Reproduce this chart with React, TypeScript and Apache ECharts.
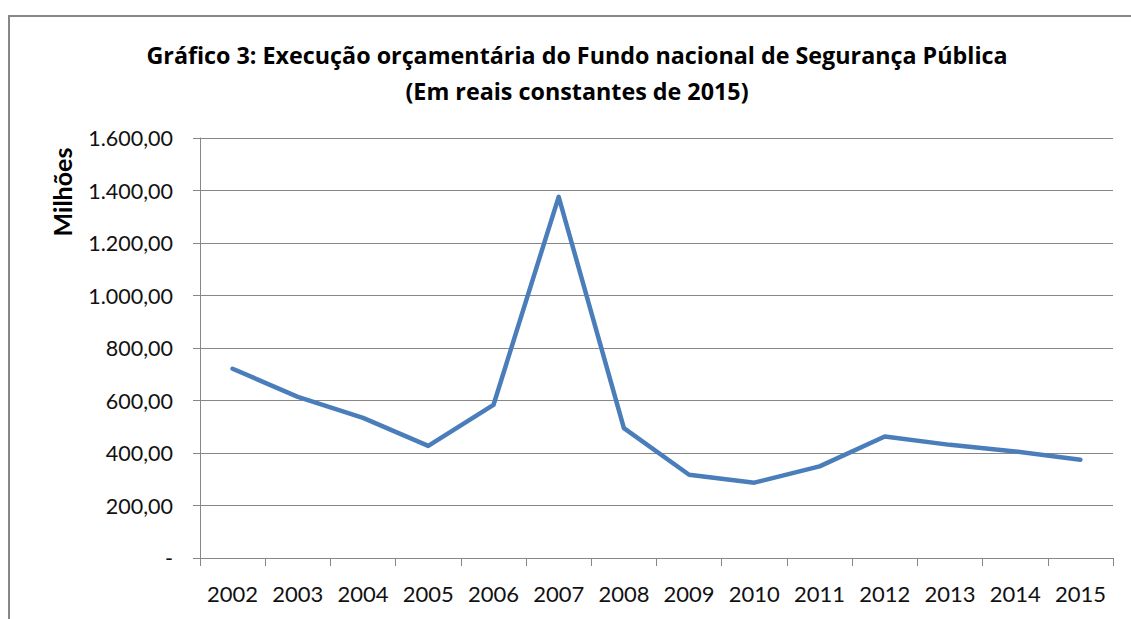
import React, { useEffect, useRef } from "react";
import * as echarts from "echarts";

const years = ["2002", "2003", "2004", "2005", "2006", "2007", "2008", "2009", "2010", "2011", "2012", "2013", "2014", "2015"];
const values = [721, 614, 534, 427, 583, 1376, 495, 317, 287, 349, 463, 431, 406, 374];
const yTicks = { min: 0, max: 1600, interval: 200 };
const titleLine1 = "Gráfico 3: Execução orçamentária do Fundo nacional de Segurança Pública";
const titleLine2 = "(Em reais constantes de 2015)";
const yAxisTitle = "Milhões";

function fmt(v: number): string {
  if (v === 0) return "-";
  const s = v.toFixed(2).replace(".", ",");
  const [intPart, dec] = s.split(",");
  const withDots = intPart.replace(/\B(?=(\d{3})+(?!\d))/g, ".");
  return withDots + "," + dec;
}

export default function App() {
  const ref = useRef<HTMLDivElement>(null);
  useEffect(() => {
    if (!ref.current) return;
    const chart = echarts.init(ref.current, null, { renderer: "svg" });
    const font = "Lato, 'Open Sans', sans-serif";
    const titleFont = "'Open Sans', Lato, sans-serif";
    const gray = "#878787";
    chart.setOption({
      animation: false,
      backgroundColor: "#ffffff",
      textStyle: { fontFamily: font },
      grid: { left: 200, right: 18, top: 138, bottom: 61, containLabel: false },
      graphic: [
        {
          type: "rect",
          shape: { x: 9, y: 16, width: 1300, height: 800 },
          style: { fill: "none", stroke: gray, lineWidth: 2 },
          silent: true,
        },
        {
          type: "text",
          x: 577,
          y: 55,
          style: { text: titleLine1, fontFamily: titleFont, fontWeight: "bold", fontSize: 23.3, fill: "#000", align: "center", verticalAlign: "middle" },
        },
        {
          type: "text",
          x: 577,
          y: 91,
          style: { text: titleLine2, fontFamily: titleFont, fontWeight: "bold", fontSize: 23.3, fill: "#000", align: "center", verticalAlign: "middle" },
        },
        {
          type: "text",
          x: 62,
          y: 192,
          rotation: Math.PI / 2,
          style: { text: yAxisTitle, fontFamily: font, fontWeight: "bold", fontSize: 25, fill: "#000", align: "center", verticalAlign: "middle" },
        },
      ],
      xAxis: {
        type: "category",
        data: years,
        boundaryGap: true,
        axisLine: { show: true, lineStyle: { color: gray, width: 1 } },
        axisTick: { show: true, length: 8, lineStyle: { color: gray }, alignWithLabel: false },
        axisLabel: { color: "#111", fontSize: 22, fontFamily: font, margin: 24, interval: 0 },
        splitLine: { show: false },
      },
      yAxis: {
        type: "value",
        min: yTicks.min,
        max: yTicks.max,
        interval: yTicks.interval,
        axisLine: { show: true, lineStyle: { color: gray, width: 1 } },
        axisTick: { show: true, length: 7, lineStyle: { color: gray } },
        axisLabel: { color: "#111", fontSize: 21.5, fontFamily: font, margin: 27, formatter: (v: number) => fmt(v) },
        splitLine: { show: true, lineStyle: { color: gray, width: 1 } },
      },
      series: [
        {
          type: "line",
          data: values,
          symbol: "none",
          lineStyle: { color: "#4a7ebb", width: 4.5, cap: "round", join: "round" },
          smooth: false,
        },
      ],
    });
    return () => chart.dispose();
  }, []);
  return <div ref={ref} style={{ position: "fixed", left: 0, top: 0, width: 1131, height: 619 }} />;
}
